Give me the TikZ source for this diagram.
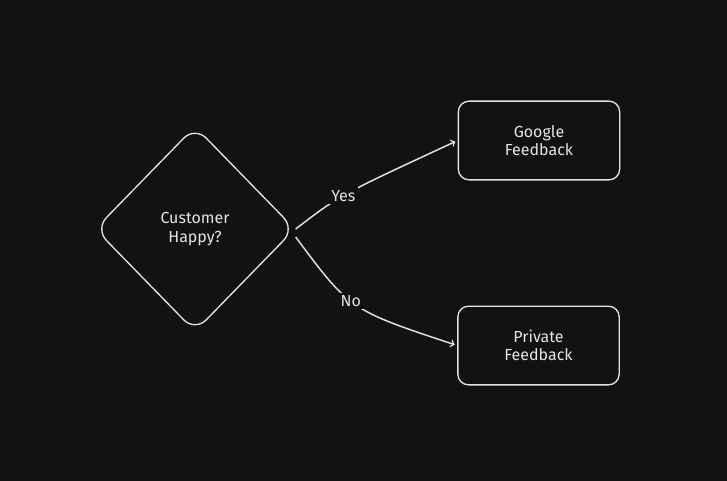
\documentclass[tikz,border=0pt]{standalone}
\usepackage{fontspec}
\setmainfont{Fira Sans}
\usetikzlibrary{positioning,shapes.geometric}
\definecolor{bg}{HTML}{121212}
\definecolor{ink}{HTML}{E4E4E4}
\begin{document}
\begin{tikzpicture}[x=0.75pt, y=-0.75pt, semithick, draw=ink, text=ink, font=\fontsize{12}{14}\selectfont,
	box/.style={draw=ink, line width=1pt, rounded corners=8pt, minimum width=121pt, minimum height=59pt, align=center},
	choice/.style={draw=ink, line width=1pt, diamond, aspect=0.98, rounded corners=12pt, minimum width=150pt, minimum height=154pt, align=center, inner sep=0pt},
	link/.style={->, draw=ink, line width=1.1pt, shorten >=2pt},
	tag/.style={fill=bg, inner sep=2pt}]
	\fill[bg] (0,0) rectangle (727,481);
	\useasboundingbox (0,0) rectangle (727,481);
	
	\node[choice] (happy) at (195,229) {Customer\\Happy?};
	\node[box] (google) at (539,140.5) {Google\\Feedback};
	\node[box] (private) at (538.5,345.5) {Private\\Feedback};
	
	\draw[link] (happy.east) .. controls (340,195) .. node[tag, pos=0.45]{Yes} (google.west);
	\draw[link] ([yshift=-6pt]happy.east) .. controls (350,310) .. node[tag, pos=0.45]{No} (private.west);
\end{tikzpicture}
\end{document}
